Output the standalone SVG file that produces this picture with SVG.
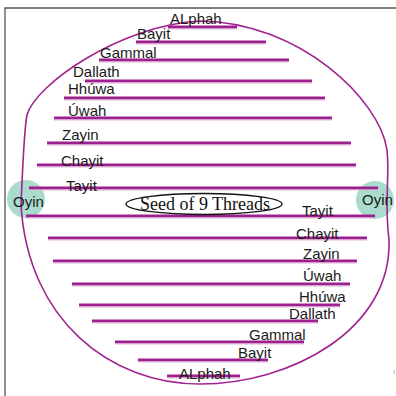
<svg xmlns="http://www.w3.org/2000/svg" width="396" height="396" viewBox="0 0 396 396">
<style>
.frame{stroke:#555;stroke-width:1.3;fill:none}
.th{stroke:#9e1f8e;stroke-width:3;fill:none}
.thl{stroke:#e2b3da;stroke-width:1;fill:none}
.bd{stroke:#a0248f;stroke-width:1.6;fill:none}
.lb{font-family:"Liberation Sans",Arial,sans-serif;font-size:15px;fill:#1a1a1a}
.oy{fill:#a9dccd}
.seed{font-family:"Liberation Serif","Times New Roman",serif;font-size:18px;fill:#111}
</style>
<rect width="396" height="396" fill="#fff"/>
<path class="frame" d="M5 396 V8 H396"/>
<g id="oyin-left"><circle class="oy" cx="26" cy="199" r="19"/></g>
<g id="oyin-right"><circle class="oy" cx="375" cy="200" r="19"/></g>
<g id="boundary">
<path class="bd" d="M200 21 C300 22 380 100 387 150 C390 178 384 200 389 240 C392 330 290 384 200 384 C110 384 28 320 21 205 C23 160 24 130 27 115 C35 85 120 25 200 21 Z"/>
</g>
<g id="threads">
<path class="th" d="M168 27H237M136 42H266M99 60H289M85 81H312M64 98H325M54 118H332M47 143H351M37 165H356M29 188H378M26 216H375M48 238H367M53 261H357M72 284H350M79 305H340M92 321H318M115 342H304M138 360H268M167 376H240"/>
<path class="thl" d="M168 29H237M136 44H266M99 62H289M85 83H312M64 100H325M54 120H332M47 145H351M37 167H356M29 190H378M26 218H375M48 240H367M53 263H357M72 286H350M79 307H340M92 323H318M115 344H304M138 362H268M167 378H240"/>
</g>
<g id="labels-top" class="lb">
<text x="170" y="24">ALphah</text>
<text x="137" y="39">Bayit</text>
<text x="100" y="58">Gammal</text>
<text x="73" y="77">Dallath</text>
<text x="68" y="94">Hhúwa</text>
<text x="68" y="116">Úwah</text>
<text x="62" y="140">Zayin</text>
<text x="61" y="166">Chayit</text>
<text x="66" y="191">Tayit</text>
</g>
<g id="labels-bottom" class="lb">
<text x="302" y="216">Tayit</text>
<text x="296" y="239">Chayit</text>
<text x="303" y="259">Zayin</text>
<text x="303" y="281">Úwah</text>
<text x="299" y="302">Hhúwa</text>
<text x="289" y="319">Dallath</text>
<text x="249" y="340">Gammal</text>
<text x="238" y="358">Bayit</text>
<text x="179" y="379">ALphah</text>
</g>
<g id="oyin-labels" class="lb">
<text x="13" y="207">Oyin</text>
<text x="362" y="205">Oyin</text>
</g>
<g id="seed">
<ellipse cx="204" cy="204" rx="78" ry="10.5" fill="none" stroke="#111" stroke-width="1.4"/>
<text class="seed" x="205" y="210" text-anchor="middle">Seed of 9 Threads</text>
</g>
<rect x="393.5" y="370" width="1.5" height="4" fill="#a9dccd"/>
</svg>
